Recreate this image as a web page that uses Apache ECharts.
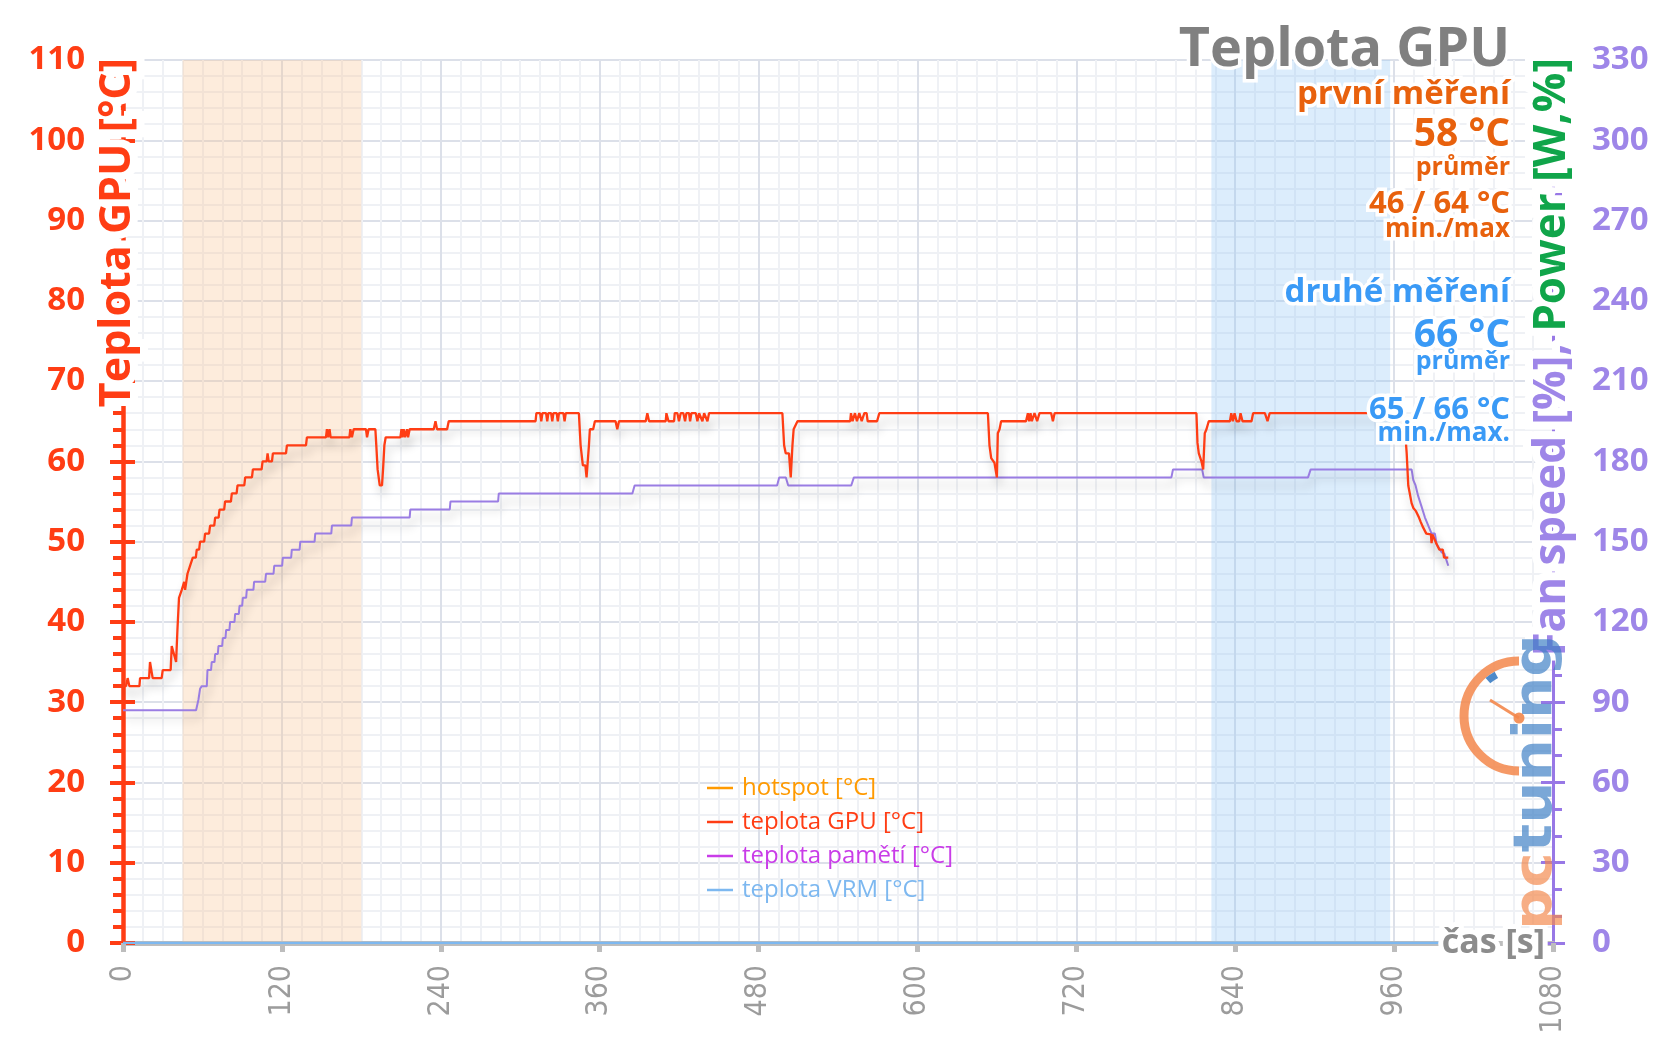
<!DOCTYPE html>
<html>
<head>
<meta charset="utf-8">
<script src="https://cdn.jsdelivr.net/npm/echarts@6/dist/echarts.min.js"></script>
<style>html,body{margin:0;padding:0;background:#fff}#chart{width:1656px;height:1043px}</style>
</head>
<body>
<div id="chart"></div>
<script>
// ---------------- DATA ----------------
const xMax = 1080;          // čas [s]
const xStep = 120;
const leftMax = 110;        // Teplota GPU [°C]
const leftStep = 10;
const rightMax = 330;       // Fan speed [%], Power [W,%]
const rightStep = 30;

const seriesNames = ['hotspot [°C]', 'teplota GPU [°C]', 'teplota pamětí [°C]', 'teplota VRM [°C]'];

// highlighted measurement windows [start s, end s]
const firstWindow = [45, 180];
const secondWindow = [822, 957];

// [time s, °C]
const hotspotTemp = [];
const memoryTemp = [];
const vrmTemp = [[0, 0], [1001, 0]];

const gpuTemp = [
[0,32],[2.3,32],[3.5,33],[4.8,32],[12.4,32],[12.9,33],[19.7,33],[20.4,35],[21.7,35],[22.4,33],[29.2,33],[30,34],[36,34],[36.8,37],[38.1,37],[40.1,35],[41.1,39],[42.3,43],[43.5,43],[44.4,44],[45.5,44],[46.2,45],[46.9,44],[47.8,45],[48.7,46],[50,46],[50.7,47],[52,47],[52.7,48],[55,48],[55.7,49],[57.5,49],[58.2,50],[61.3,50],[62,51],[65,51],[65.8,52],[68.9,52],[69.6,53],[72.2,53],[72.9,54],[76.4,54],[77.1,55],[81.5,55],[82.2,56],[85.8,56],[86.5,57],[91.6,57],[92.3,58],[97.4,58],[98.1,59],[104.7,59],[105.4,60],[108.5,60],[109.2,61],[110,60],[112.5,60],[113.2,61],[123.1,61],[123.8,62],[138.2,62],[138.9,63],[153.3,63],[154,64],[154.8,63],[156,64],[156.8,63],[171,63],[171.7,64],[172.9,63],[174.2,64],[183.5,64],[184.3,63],[185.5,64],[190.6,64],[191.3,62],[192.3,59],[193.9,57],[195.6,57],[196.4,59],[197.4,62],[198.4,63],[209.5,63],[210.3,64],[211,63],[212,64],[213,63],[214.5,64],[215.3,63],[216.5,64],[234.7,64],[236,65],[237.2,64],[244.8,64],[246,65],
[311.6,65],[312.2,66],[315,66],[315.9,65],[316.8,66],[319.5,66],[320.4,65],[321.3,66],[323.3,66],[324.2,65],[325.1,66],[327.5,66],[328.4,65],[329.3,66],[332.6,66],[333.5,65],[334.4,66],[344.3,66],[345.6,62],[347.3,59.5],[349.2,59.5],[350.1,58],[351.9,62],[352.6,64],[355.1,64],[356.4,65],[372,65],[373.3,64],[374.6,65],[394.8,65],[396,66],[397.3,65],[409.9,65],[410.4,66],[411.2,66],[412,65],[416.2,65],[416.7,66],[418.7,66],[419.9,65],[421.2,66],[423.2,66],[424.5,65],[425.5,66],[427.5,66],[428.3,65],[429.3,66],[432.6,66],[433.8,65],[435.1,66],[436.4,66],[437.6,65],[438.9,66],[441.4,65],[442.6,66],
[498,66],[499.3,62],[500.5,61],[503,61],[504.3,58],[505.6,62],[506.5,64],[508,64],[509.4,65],[549.2,65],[549.8,66],[551,65],[552.8,66],[554.3,65],[556.1,66],[557.9,65],[559.9,66],[561.6,66],[562.4,65],[569.5,65],[571.2,66],
[653.2,66],[654.4,62],[655.7,60.4],[658.2,59.8],[660,58],[660.7,63.5],[662,64],[663.2,65],[682,65],[683.4,66],[684.4,65],[685.4,66],[686.4,65],[688.4,66],[689.7,66],[690.4,65],[691.5,65],[692.2,66],[701,66],[702.3,65],[703.6,66],
[810.7,66],[811.5,62.3],[812.5,61],[814.5,60],[815.8,59],[817,63.5],[818.3,64],[820,65],[836,65],[837,66],[838.2,65],[839.5,66],[841,65],[843,65],[844,66],[845.5,65],[852.3,65],[853.5,66],[862.4,66],[864.4,65],[866,66],
[967,66],[968.2,64],[969.5,61],[970.7,57],[972,56.8],[973.2,54.8],[974.5,54.2],[976.5,53.8],[978.8,53],[980,52.5],[981.5,51.9],[983,51.7],[984.3,51],[987.8,50.9],[988.3,49.8],[988.9,50.9],[990,50.9],[991.8,49.8],[993,49.8],[994.2,49],[996.8,49],[997.7,48],[1000.9,48]
];

// [time s, value on right axis]
const fanSpeed = [
[0,87],[55.2,87],[57,91],[58.2,95],[59.5,96],[63.3,96],[63.8,102],[66.5,102],[67,105],[69.1,105],[69.6,108],[71.6,108],[72.1,111],[74.9,111],[75.4,114],[77.4,114],[77.9,117],[80.4,117],[80.9,120],[84.2,120],[84.7,123],[87.5,123],[88,126],[90,126],[90.5,129],[93,129],[93.5,132],[98.5,132],[99,135],[107.4,135],[108,138],[113.7,138],[114.2,141],[120.2,141],[120.7,144],[127,144],[127.5,147],[133.4,147],[133.9,150],[144.7,150],[145.2,153],[157.3,153],[157.8,156],[172.4,156],[172.9,159],[216.5,159],[217,162],[246.8,162],[247.3,165],[283.3,165],[283.8,168],[384.7,168],[386.4,171],[494,171],[495.6,174],[500.6,174],[502.4,171],[550,171],[552,174],[791.8,174],[793,177],[815,177],[816.2,174],[895,174],[897,177],[973.2,177],[974.5,173],[976.2,171],[978.2,167],[980.8,163],[983.3,159],[985.8,156],[988.3,153],[990.8,153],[992.1,149],[993.4,148],[995.9,146],[997.9,145.5],[1000.9,141]
];

// texts
const titleText = 'Teplota GPU';
const leftAxisName = 'Teplota GPU [°C]';
const rightAxisNameFan = 'Fan speed [%], ';
const rightAxisNamePower = 'Power [W,%]';
const xAxisName = 'čas [s]';
const firstStats = ['první měření', '58 °C', 'průměr', '46 / 64 °C', 'min./max'];
const secondStats = ['druhé měření', '66 °C', 'průměr', '65 / 66 °C', 'min./max.'];
const logoParts = ['pc', 'tuning'];

// ---------------- STYLE ----------------
const FONT = "'Open Sans','Noto Sans',sans-serif";
const RED = '#FF3D14';
const ORANGE = '#E8610D';
const BLUE = '#3A9AF6';
const GRAY = '#808080';
const PURPLE_AXIS = '#9878E6';
const PURPLE_LABEL = '#9E86E8';
const GREEN = '#10A54A';
const LOGO_OR = '#F3874B';
const LOGO_BL = '#3B7DC4';

const chart = echarts.init(document.getElementById('chart'), null, {renderer: 'canvas'});

const lineShadow = {shadowColor: 'rgba(0,0,0,0.22)', shadowBlur: 10, shadowOffsetX: 2, shadowOffsetY: 8};

// text with a white halo drawn underneath (two elements)
function haloText(base, haloWidth) {
  const halo = JSON.parse(JSON.stringify(base));
  halo.style.fill = '#fff';
  halo.style.stroke = '#fff';
  halo.style.lineWidth = haloWidth;
  halo.style.lineJoin = 'round';
  if (halo.style.rich) {
    Object.keys(halo.style.rich).forEach(k => {
      halo.style.rich[k].fill = '#fff';
      halo.style.rich[k].stroke = '#fff';
      halo.style.rich[k].lineWidth = haloWidth;
    });
  }
  halo.zlevel = 1; halo.z = 10;
  base.zlevel = 1; base.z = 11;
  return [halo, base];
}

// stats layout
const statSizes = [33, 39, 25, 31, 26];
const firstY = [95, 135, 168, 204, 230];
const secondY = [293, 336, 362, 410, 434];
let textGraphics = [];
firstStats.forEach((t, i) => { textGraphics = textGraphics.concat(haloText({
  type: 'text', x: 1510, y: firstY[i],
  style: {text: t, fill: ORANGE, font: `bold ${statSizes[i]}px ${FONT}`, align: 'right', verticalAlign: 'middle'}
}, 7)); });
secondStats.forEach((t, i) => { textGraphics = textGraphics.concat(haloText({
  type: 'text', x: 1510, y: secondY[i],
  style: {text: t, fill: BLUE, font: `bold ${statSizes[i]}px ${FONT}`, align: 'right', verticalAlign: 'middle'}
}, 7)); });

textGraphics = textGraphics.concat(
  haloText({type: 'text', x: 118, y: 58, rotation: Math.PI / 2,
    style: {text: leftAxisName, fill: RED, font: `bold 43px ${FONT}`, align: 'right', verticalAlign: 'middle'}}, 16),
  haloText({type: 'text', x: 1552, y: 58, rotation: Math.PI / 2,
    style: {text: `{a|${rightAxisNameFan}}{b|${rightAxisNamePower}}`, align: 'right', verticalAlign: 'middle',
      rich: {
        a: {fill: PURPLE_LABEL, fontSize: 44, fontWeight: 'bold', fontFamily: FONT},
        b: {fill: GREEN, fontSize: 44, fontWeight: 'bold', fontFamily: FONT}
      }}}, 16),
  haloText({type: 'text', x: 1545, y: 943,
    style: {text: xAxisName, fill: '#8C8C8C', font: `bold 34px ${FONT}`, align: 'right', verticalAlign: 'middle'}}, 10),
  haloText({type: 'text', x: 1510, y: 51,
    style: {text: titleText, fill: GRAY, font: `bold 54px ${FONT}`, align: 'right', verticalAlign: 'middle'}}, 7)
);

const option = {
  animation: false,
  backgroundColor: '#ffffff',
  grid: {left: 123, right: 103, top: 60, bottom: 100},
  legend: {
    orient: 'vertical', left: 707, top: 776, padding: 0,
    icon: 'rect', itemWidth: 26, itemHeight: 2.5, itemGap: 10,
    selectedMode: false,
    textStyle: {fontFamily: FONT, fontSize: 24, lineHeight: 24, padding: [0, 0, 0, 4]},
    data: [
      {name: seriesNames[0], textStyle: {color: '#FF9A00'}},
      {name: seriesNames[1], textStyle: {color: RED}},
      {name: seriesNames[2], textStyle: {color: '#C93CE8'}},
      {name: seriesNames[3], textStyle: {color: '#7DB8F0'}}
    ]
  },
  xAxis: {
    type: 'value', min: 0, max: xMax, interval: xStep,
    axisLine: {show: true, onZero: false, lineStyle: {color: '#BDBDBD', width: 5}},
    axisTick: {show: true, length: 9, lineStyle: {color: '#BDBDBD', width: 5}},
    minorTick: {show: false, splitNumber: 8},
    axisLabel: {rotate: 90, margin: 22, color: '#9C9C9C', fontSize: 30,
      fontFamily: "'DejaVu Sans Condensed','DejaVu Sans',sans-serif", showMinLabel: true, showMaxLabel: true,
      formatter: v => String(v)},
    splitLine: {show: true, lineStyle: {color: '#DCE0E9', width: 2}},
    minorSplitLine: {show: true, lineStyle: {color: '#EFF1F5', width: 2}}
  },
  yAxis: [
    {
      type: 'value', position: 'left', min: 0, max: leftMax, interval: leftStep,
      axisLine: {show: true, lineStyle: {color: RED, width: 4.5}},
      axisTick: {show: true, length: 13, lineStyle: {color: RED, width: 4}},
      minorTick: {show: true, splitNumber: 5, length: 10, lineStyle: {color: RED, width: 4}},
      axisLabel: {margin: 38, color: RED, fontSize: 33, fontWeight: 'bold', fontFamily: FONT},
      splitLine: {show: true, lineStyle: {color: '#DCE0E9', width: 2}},
      minorSplitLine: {show: true, lineStyle: {color: '#EFF1F5', width: 2}}
    },
    {
      type: 'value', position: 'right', min: 0, max: rightMax, interval: rightStep,
      axisLine: {show: true, lineStyle: {color: PURPLE_AXIS, width: 3}},
      axisTick: {show: true, length: 12, lineStyle: {color: PURPLE_AXIS, width: 3}},
      minorTick: {show: true, splitNumber: 3, length: 9, lineStyle: {color: PURPLE_AXIS, width: 3}},
      axisLabel: {margin: 39, color: PURPLE_LABEL, fontSize: 33, fontWeight: 'bold', fontFamily: FONT},
      splitLine: {show: false}
    },
    {
      type: 'value', position: 'left', min: 0, max: leftMax, interval: leftStep,
      axisLine: {show: false},
      axisTick: {show: true, inside: true, length: 12, lineStyle: {color: RED, width: 4}},
      axisLabel: {show: false}, splitLine: {show: false}
    },
    {
      type: 'value', position: 'right', min: 0, max: rightMax, interval: rightStep,
      axisLine: {show: false},
      axisTick: {show: true, inside: true, length: 12, lineStyle: {color: PURPLE_AXIS, width: 3}},
      axisLabel: {show: false}, splitLine: {show: false}
    }
  ],
  series: [
    {
      name: seriesNames[0], type: 'line', data: hotspotTemp, symbol: 'none',
      color: '#FF9A00', lineStyle: {width: 2}
    },
    {
      name: seriesNames[1], type: 'line', data: gpuTemp, symbol: 'none', z: 4,
      color: RED, lineStyle: Object.assign({width: 2.3, color: RED}, lineShadow),
      markArea: {
        silent: true,
        data: [
          [{xAxis: firstWindow[0], itemStyle: {color: 'rgba(248,196,150,0.33)'}}, {xAxis: firstWindow[1]}],
          [{xAxis: secondWindow[0], itemStyle: {color: 'rgba(150,200,245,0.33)'}}, {xAxis: secondWindow[1]}]
        ]
      }
    },
    {
      name: seriesNames[2], type: 'line', data: memoryTemp, symbol: 'none',
      color: '#C93CE8', lineStyle: {width: 2}
    },
    {
      name: seriesNames[3], type: 'line', data: vrmTemp, symbol: 'none',
      color: '#7DB8F0', lineStyle: {width: 2.5, color: '#7DB8F0'}
    },
    {
      name: 'Fan speed [%]', type: 'line', yAxisIndex: 1, data: fanSpeed, symbol: 'none', z: 3,
      color: '#9A7DE3', lineStyle: Object.assign({width: 2, color: '#9A7DE3'}, lineShadow)
    }
  ],
  graphic: [
    // pctuning logo (above the axis-name halos, semi-transparent)
    {type: 'arc', zlevel: 1, z: 20, shape: {cx: 1519, cy: 716, r: 55, startAngle: Math.PI / 2, endAngle: Math.PI * 1.5, clockwise: true},
      style: {stroke: LOGO_OR, lineWidth: 9, fill: null, opacity: 0.85}},
    {type: 'arc', zlevel: 1, z: 21, shape: {cx: 1519, cy: 716, r: 47, startAngle: Math.PI * 1.27, endAngle: Math.PI * 1.34, clockwise: true},
      style: {stroke: LOGO_BL, lineWidth: 7, fill: null, opacity: 0.9}},
    {type: 'line', zlevel: 1, z: 21, shape: {x1: 1519, y1: 718, x2: 1490, y2: 700}, style: {stroke: LOGO_OR, lineWidth: 3, opacity: 0.9}},
    {type: 'circle', zlevel: 1, z: 21, shape: {cx: 1519, cy: 718, r: 5.5}, style: {fill: LOGO_OR, opacity: 0.9}},
    {type: 'text', zlevel: 1, z: 20, x: 1537, y: 930, rotation: Math.PI / 2, scaleX: 1.1,
      style: {text: `{a|${logoParts[0]}}{b|${logoParts[1]}}`, align: 'left', verticalAlign: 'middle', opacity: 0.68,
        rich: {
          a: {fill: LOGO_OR, fontSize: 54, fontWeight: 'bold', fontFamily: "'DejaVu Sans',sans-serif"},
          b: {fill: LOGO_BL, fontSize: 54, fontWeight: 'bold', fontFamily: "'DejaVu Sans',sans-serif"}
        }}}
  ].concat(textGraphics)
};

chart.setOption(option);
</script>
</body>
</html>
